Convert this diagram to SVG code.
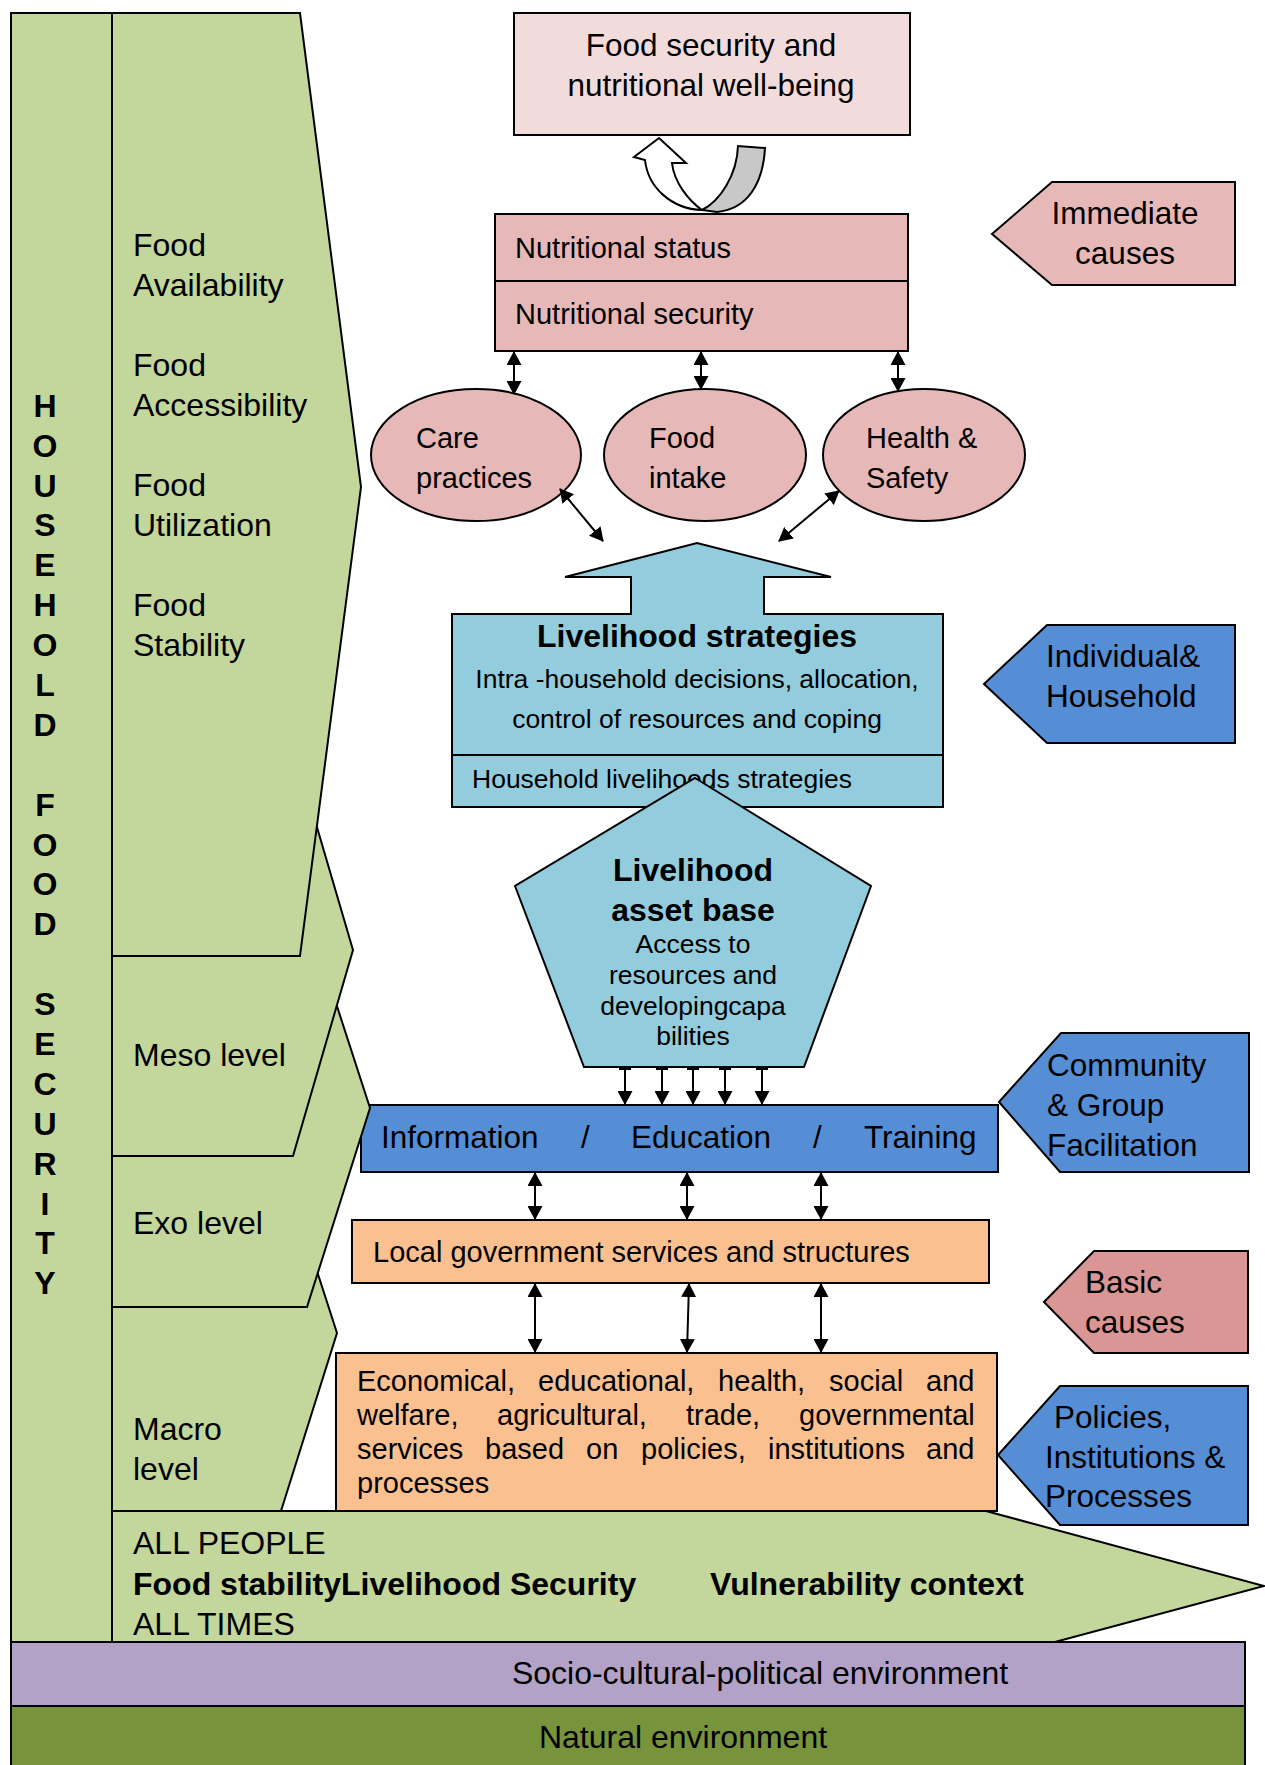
<svg xmlns="http://www.w3.org/2000/svg" width="1265" height="1765" viewBox="0 0 1265 1765">
<style>
text { font-family: "Liberation Sans", Arial, sans-serif; fill: #000; }
.b { font-weight: bold; }
.f32 { font-size: 32px; }
.f31 { font-size: 31.5px; }
.f29 { font-size: 29px; }
.f26 { font-size: 26.5px; }
.s { stroke: #000; stroke-width: 2; stroke-linejoin: miter; }
.g { fill: #C3D69B; }
.pk { fill: #E6B8B7; }
.lb { fill: #93CDDD; }
.bl { fill: #558ED5; }
.or { fill: #FAC090; }
.mid { text-anchor: middle; }
.cn line { stroke: #000; stroke-width: 2; }
</style>
<defs>
<marker id="ah" markerUnits="userSpaceOnUse" markerWidth="14" markerHeight="15" refX="13" refY="7.5" orient="auto-start-reverse" viewBox="0 0 14 15">
<path d="M0,0 L14,7.5 L0,15 Z" fill="#000"/>
</marker>
<marker id="tee" markerUnits="userSpaceOnUse" markerWidth="12" markerHeight="4" refX="6" refY="1" orient="0" viewBox="0 0 12 4">
<rect x="0" y="0" width="12" height="3" fill="#000"/>
</marker>
</defs>

<!-- background layers -->
<g id="natural-env">
<rect x="11" y="1706" width="1234" height="70" fill="#77933C" class="s"/>
<text class="f32 mid" x="683" y="1748">Natural environment</text>
</g>
<g id="socio-env">
<rect x="11" y="1642" width="1234" height="64" fill="#B3A2C7" class="s"/>
<text class="f32 mid" x="760" y="1684">Socio-cultural-political environment</text>
</g>

<!-- center column -->
<g id="food-security-box">
<rect x="514" y="13" width="396" height="122" fill="#F2DCDB" class="s"/>
<text class="f31 mid" x="711" y="56">Food security and</text>
<text class="f31 mid" x="711" y="96">nutritional well-being</text>
</g>
<g id="cycle-arrows">
<path d="M702,210 C720,201 737,175 738,146 L765,148 C763,183 748,209 717,212 Z" fill="#C8C8C8" class="s"/>
<path d="M659,138 L634,157 L645,160 C648,188 672,209 702,210 C688,200 674,182 672,163 L686,163 Z" fill="#FFFFFF" class="s"/>
</g>
<g id="nutritional-box">
<rect x="495" y="214" width="413" height="67" class="pk s"/>
<rect x="495" y="281" width="413" height="70" class="pk s"/>
<text class="f29" x="515" y="258">Nutritional status</text>
<text class="f29" x="515" y="324">Nutritional security</text>
</g>
<g id="care-practices">
<ellipse cx="476" cy="455" rx="105" ry="66" class="pk s"/>
<text class="f29" x="416" y="448">Care</text>
<text class="f29" x="416" y="488">practices</text>
</g>
<g id="food-intake">
<ellipse cx="705" cy="455" rx="101" ry="66" class="pk s"/>
<text class="f29" x="649" y="448">Food</text>
<text class="f29" x="649" y="488">intake</text>
</g>
<g id="health-safety">
<ellipse cx="924" cy="455" rx="101" ry="66" class="pk s"/>
<text class="f29" x="866" y="448">Health &amp;</text>
<text class="f29" x="866" y="488">Safety</text>
</g>
<g id="livelihood-strategies">
<path d="M452,614 L631,614 L631,577 L565,577 L697,543 L831,577 L764,577 L764,614 L943,614 L943,755 L452,755 Z" class="lb s"/>
<rect x="452" y="755" width="491" height="52" class="lb s"/>
<text class="f32 b mid" x="697" y="647">Livelihood strategies</text>
<text class="f26 mid" x="697" y="688">Intra -household decisions, allocation,</text>
<text class="f26 mid" x="697" y="728">control of resources and coping</text>
<text class="f26" x="472" y="788">Household livelihoods strategies</text>
</g>
<g id="asset-base">
<path d="M695,778 L871,886 L804,1067 L584,1067 L515,886 Z" class="lb s"/>
<text class="f32 b mid" x="693" y="881">Livelihood</text>
<text class="f32 b mid" x="693" y="921">asset base</text>
<text class="f26 mid" x="693" y="953">Access to</text>
<text class="f26 mid" x="693" y="984">resources and</text>
<text class="f26 mid" x="693" y="1015">developingcapa</text>
<text class="f26 mid" x="693" y="1045">bilities</text>
</g>
<g id="info-education-training">
<rect x="361" y="1105" width="637" height="67" class="bl s"/>
<text class="f31" x="381" y="1148">Information</text>
<text class="f31" x="581" y="1148">/</text>
<text class="f31" x="631" y="1148">Education</text>
<text class="f31" x="813" y="1148">/</text>
<text class="f31" x="864" y="1148">Training</text>
</g>
<g id="local-government">
<rect x="352" y="1220" width="637" height="63" class="or s"/>
<text class="f29" x="373" y="1262">Local government services and structures</text>
</g>
<g id="services-box">
<rect x="336" y="1353" width="661" height="158" class="or s"/>
<text class="f29" y="1391"><tspan x="357">Economical,</tspan><tspan x="538">educational,</tspan><tspan x="718">health,</tspan><tspan x="829">social</tspan><tspan x="926">and</tspan></text>
<text class="f29" y="1425"><tspan x="357">welfare,</tspan><tspan x="497">agricultural,</tspan><tspan x="686">trade,</tspan><tspan x="799">governmental</tspan></text>
<text class="f29" y="1459"><tspan x="357">services</tspan><tspan x="485">based</tspan><tspan x="586">on</tspan><tspan x="641">policies,</tspan><tspan x="768">institutions</tspan><tspan x="926">and</tspan></text>
<text class="f29" x="357" y="1493">processes</text>
</g>

<!-- right side labels -->
<g id="immediate-causes">
<path d="M992,234 L1052,182 L1235,182 L1235,285 L1052,285 Z" class="pk s"/>
<text class="f31 mid" x="1125" y="224">Immediate</text>
<text class="f31 mid" x="1125" y="264">causes</text>
</g>
<g id="individual-household">
<path d="M984,684 L1047,625 L1235,625 L1235,743 L1047,743 Z" class="bl s"/>
<text class="f31" x="1046" y="667">Individual&amp;</text>
<text class="f31" x="1046" y="707">Household</text>
</g>
<g id="community-group">
<path d="M999,1102 L1061,1033 L1249,1033 L1249,1172 L1060,1172 Z" class="bl s"/>
<text class="f31" x="1047" y="1076">Community</text>
<text class="f31" x="1047" y="1116">&amp; Group</text>
<text class="f31" x="1047" y="1156">Facilitation</text>
</g>
<g id="basic-causes">
<path d="M1044,1302 L1094,1251 L1248,1251 L1248,1353 L1094,1353 Z" fill="#D99694" class="s"/>
<text class="f31" x="1085" y="1293">Basic</text>
<text class="f31" x="1085" y="1333">causes</text>
</g>
<g id="policies-institutions">
<path d="M998,1455 L1060,1386 L1248,1386 L1248,1525 L1060,1525 Z" class="bl s"/>
<text class="f31" x="1054" y="1428">Policies,</text>
<text class="f31" x="1045" y="1468">Institutions &amp;</text>
<text class="f31" x="1045" y="1507">Processes</text>
</g>

<!-- left panel -->
<g id="household-food-security">
<rect x="11" y="13" width="101" height="1629" class="g s"/>
<text class="f32 b mid"><tspan x="45" y="417">H</tspan><tspan x="45" y="457">O</tspan><tspan x="45" y="497">U</tspan><tspan x="45" y="536">S</tspan><tspan x="45" y="576">E</tspan><tspan x="45" y="616">H</tspan><tspan x="45" y="656">O</tspan><tspan x="45" y="696">L</tspan><tspan x="45" y="736">D</tspan><tspan x="45" y="816">F</tspan><tspan x="45" y="856">O</tspan><tspan x="45" y="895">O</tspan><tspan x="45" y="935">D</tspan><tspan x="45" y="1015">S</tspan><tspan x="45" y="1055">E</tspan><tspan x="45" y="1095">C</tspan><tspan x="45" y="1135">U</tspan><tspan x="45" y="1175">R</tspan><tspan x="45" y="1215">I</tspan><tspan x="45" y="1254">T</tspan><tspan x="45" y="1294">Y</tspan></text>
</g>
<g id="vulnerability-band">
<path d="M112,1511 L986,1511 L1264,1586 L1055,1642 L112,1642 Z" class="g s"/>
<text class="f32" x="133" y="1554">ALL PEOPLE</text>
<text class="f32 b" x="133" y="1595">Food stabilityLivelihood Security</text>
<text class="f32 b" x="710" y="1595">Vulnerability context</text>
<text class="f32" x="133" y="1635">ALL TIMES</text>
</g>
<g id="macro-level">
<path d="M112,1200 L294,1200 L337,1333 L281,1511 L112,1511 Z" class="g s"/>
<text class="f32" x="133" y="1440">Macro</text>
<text class="f32" x="133" y="1480">level</text>
</g>
<g id="exo-level">
<path d="M112,960 L322,960 L370,1108 L307,1307 L112,1307 Z" class="g s"/>
<text class="f32" x="133" y="1234">Exo level</text>
</g>
<g id="meso-level">
<path d="M112,800 L309,800 L353,950 L293,1156 L112,1156 Z" class="g s"/>
<text class="f32" x="133" y="1066">Meso level</text>
</g>
<g id="food-dimensions">
<path d="M112,13 L300,13 L361,487 L300,956 L112,956 Z" class="g s"/>
<text class="f32" x="133" y="256">Food</text>
<text class="f32" x="133" y="296">Availability</text>
<text class="f32" x="133" y="376">Food</text>
<text class="f32" x="133" y="416">Accessibility</text>
<text class="f32" x="133" y="496">Food</text>
<text class="f32" x="133" y="536">Utilization</text>
<text class="f32" x="133" y="616">Food</text>
<text class="f32" x="133" y="656">Stability</text>
</g>

<!-- connectors -->
<g id="connectors" class="cn">
<line x1="514" y1="352" x2="514" y2="394" marker-start="url(#ah)" marker-end="url(#ah)"/>
<line x1="701" y1="352" x2="701" y2="389" marker-start="url(#ah)" marker-end="url(#ah)"/>
<line x1="898" y1="352" x2="898" y2="391" marker-start="url(#ah)" marker-end="url(#ah)"/>
<line x1="560" y1="489" x2="603" y2="541" marker-start="url(#ah)" marker-end="url(#ah)"/>
<line x1="839" y1="491" x2="779" y2="541" marker-start="url(#ah)" marker-end="url(#ah)"/>
<line x1="625" y1="1068" x2="625" y2="1104" marker-start="url(#tee)" marker-end="url(#ah)"/>
<line x1="662" y1="1068" x2="662" y2="1104" marker-start="url(#tee)" marker-end="url(#ah)"/>
<line x1="693" y1="1068" x2="693" y2="1104" marker-start="url(#tee)" marker-end="url(#ah)"/>
<line x1="725" y1="1068" x2="725" y2="1104" marker-start="url(#tee)" marker-end="url(#ah)"/>
<line x1="762" y1="1068" x2="762" y2="1104" marker-start="url(#tee)" marker-end="url(#ah)"/>
<line x1="535" y1="1173" x2="535" y2="1219" marker-start="url(#ah)" marker-end="url(#ah)"/>
<line x1="687" y1="1173" x2="687" y2="1219" marker-start="url(#ah)" marker-end="url(#ah)"/>
<line x1="821" y1="1173" x2="821" y2="1219" marker-start="url(#ah)" marker-end="url(#ah)"/>
<line x1="535" y1="1284" x2="535" y2="1352" marker-start="url(#ah)" marker-end="url(#ah)"/>
<line x1="689" y1="1284" x2="687" y2="1352" marker-start="url(#ah)" marker-end="url(#ah)"/>
<line x1="821" y1="1284" x2="821" y2="1352" marker-start="url(#ah)" marker-end="url(#ah)"/>
</g>
</svg>
